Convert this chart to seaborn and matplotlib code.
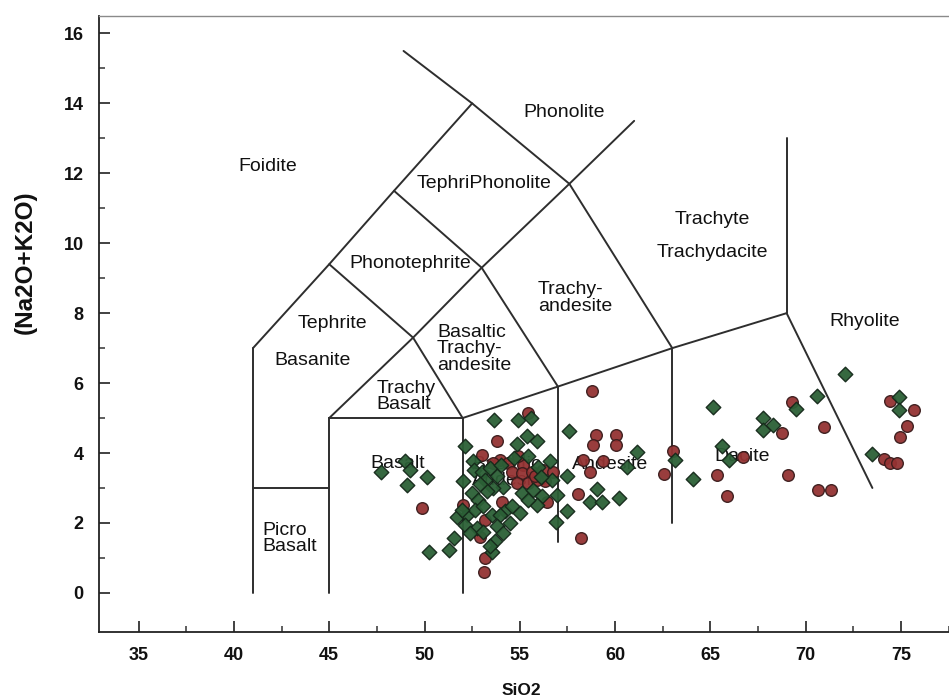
import matplotlib
matplotlib.use("Agg")
import matplotlib.pyplot as plt
import numpy as np
import pandas as pd
import seaborn as sns
from matplotlib.ticker import MultipleLocator

sns.set_theme(style="white")
plt.rcParams['font.family'] = ['Liberation Sans', 'DejaVu Sans']
plt.rcParams['text.color'] = '#111111'
plt.rcParams['axes.labelcolor'] = '#111111'
plt.rcParams['xtick.labelcolor'] = '#111111'
plt.rcParams['ytick.labelcolor'] = '#111111'

# ---- Sample analyses: SiO2 (wt%) vs total alkalis Na2O+K2O (wt%) ----
green_sio2 = [47.70, 48.97, 49.24, 49.06, 50.14, 50.25, 51.30,
              53.66, 54.92, 55.58, 54.84, 55.39, 55.92, 57.56, 61.13, 60.61,
              59.03, 58.68, 59.29, 60.22, 57.49, 57.49, 56.90, 53.52,
              63.16, 64.10, 65.15, 65.59, 66.00, 67.77, 68.30, 67.74, 69.47,
              70.61, 72.06, 73.46, 74.91, 74.91,
              52.12, 52.56, 52.59, 53.00, 53.43, 53.17, 53.79, 55.44, 55.97,
              56.58, 56.67, 54.13, 53.61, 55.10, 55.71, 56.15, 56.93, 55.89,
              55.45, 52.03, 52.47, 52.82, 51.69, 52.21, 52.65, 53.08, 53.52,
              54.22, 54.57, 55.01, 53.96, 52.12, 52.73, 52.38, 53.08, 53.79,
              54.13, 53.70, 54.48, 53.43, 51.55, 51.95, 54.70, 53.30, 56.10,
              54.00, 52.90]
green_alk = [3.47, 3.76, 3.52, 3.09, 3.31, 1.18, 1.23,
             4.93, 4.93, 5.01, 4.26, 4.49, 4.33, 4.64, 4.04, 3.61,
             2.97, 2.61, 2.61, 2.71, 3.35, 2.33, 2.04, 1.18,
             3.79, 3.26, 5.33, 4.21, 3.79, 5.00, 4.81, 4.67, 5.26,
             5.64, 6.27, 3.97, 5.60, 5.22,
             4.19, 3.76, 3.52, 3.47, 3.57, 3.23, 3.33, 3.90, 3.61,
             3.76, 3.23, 3.04, 3.00, 2.85, 2.95, 2.76, 2.80, 2.52,
             2.66, 3.19, 2.85, 2.66, 2.18, 2.23, 2.38, 2.47, 2.23,
             2.33, 2.47, 2.28, 2.23, 1.95, 1.85, 1.71, 1.75, 1.90,
             1.71, 1.47, 1.99, 1.33, 1.57, 2.38, 3.85, 2.90, 3.30,
             3.65, 3.10]

red_sio2 = [49.88, 55.44, 53.79, 58.77, 58.98, 60.03, 58.85, 60.03,
            58.33, 59.38, 58.68, 58.07, 58.19, 53.17, 53.12,
            63.02, 62.58, 65.33, 65.85, 66.69, 68.74, 69.26, 69.09,
            70.96, 70.66, 71.31, 74.11, 74.42, 74.80, 74.42, 75.68,
            75.30, 74.95,
            53.03, 53.96, 54.40, 54.57, 55.18, 55.10, 55.62, 56.23,
            56.76, 56.32, 54.84, 55.45, 55.89, 56.41, 52.03, 53.17,
            54.05, 52.91, 54.90, 55.80, 53.60]
red_alk = [2.44, 5.14, 4.35, 5.76, 4.52, 4.52, 4.24, 4.24,
           3.81, 3.76, 3.47, 2.83, 1.57, 0.99, 0.59,
           4.06, 3.41, 3.36, 2.78, 3.88, 4.57, 5.45, 3.36,
           4.74, 2.95, 2.95, 3.83, 3.71, 3.71, 5.50, 5.22,
           4.76, 4.47,
           3.95, 3.81, 3.71, 3.47, 3.66, 3.43, 3.47, 3.52,
           3.47, 3.19, 3.14, 3.14, 3.23, 2.61, 2.52, 2.09,
           2.61, 1.61, 3.90, 3.35, 3.70]

# ---- TAS classification boundaries (Le Bas et al.) ----
line_picro_v = [(41, 0), (41, 7)]
line_picro_h = [(41, 3), (45, 3)]
line_basalt = [(45, 0), (45, 5), (52, 5), (52, 0)]
line_lower_alk = [(52, 5), (57, 5.9), (63, 7), (69, 8)]
line_andesite = [(57, 5.9), (57, 1.45)]
line_dacite = [(63, 7), (63, 2.0)]
line_rhyolite = [(69, 8), (73.5, 3.0)]
line_trachyte = [(69, 8), (69, 13)]
line_foidite = [(41, 7), (45, 9.4), (48.4, 11.5), (52.5, 14), (48.9, 15.5)]
line_phonolite = [(52.5, 14), (57.6, 11.7), (63, 7)]
line_tephrite = [(45, 9.4), (49.4, 7.3), (52, 5)]
line_phonotephrite = [(48.4, 11.5), (53, 9.3), (57, 5.9)]
line_trachy = [(45, 5), (49.4, 7.3), (53, 9.3), (57.6, 11.7), (61, 13.5)]
boundaries = [line_picro_v, line_picro_h, line_basalt, line_lower_alk,
              line_andesite, line_dacite, line_rhyolite, line_trachyte,
              line_foidite, line_phonolite, line_tephrite,
              line_phonotephrite, line_trachy]

# ---- Field names: text, x, y, horizontal alignment ----
field_names = ["Foidite", "Phonolite", "TephriPhonolite", "Phonotephrite",
               "Tephrite", "Basanite", "Basaltic\nTrachy-\nandesite",
               "Trachy\nBasalt", "Trachy-\nandesite", "Trachyte",
               "Trachydacite", "Rhyolite", "Picro\nBasalt", "Basalt",
               "Basaltic\nAndesite", "Andesite", "Dacite"]
field_x = [41.75, 57.3, 53.1, 49.25, 45.15, 44.15, 50.65, 47.5, 55.95,
           65.1, 65.1, 73.1, 41.5, 48.6, 52.5, 59.75, 66.65]
field_y = [12.2, 13.75, 11.7, 9.42, 7.7, 6.65, 6.98, 5.62, 8.43,
           10.68, 9.73, 7.76, 1.55, 3.69, 3.45, 3.66, 3.9]
field_ha = ["center", "center", "center", "center", "center", "center",
            "left", "left", "left", "center", "center", "center", "left",
            "center", "left", "center", "center"]

fig = plt.figure(figsize=(9.49, 7.0), dpi=100)
ax = fig.add_axes([99 / 949, 1 - 632 / 700, 850 / 949, 616 / 700])

for seg in boundaries:
    xs, ys = zip(*seg)
    ax.plot(xs, ys, color="#2e2e2e", lw=1.4, zorder=2,
            solid_joinstyle="miter")

for name, x, y, ha in zip(field_names, field_x, field_y, field_ha):
    ax.text(x, y, name, ha=ha, va="center", fontsize=14, color="#111111",
            linespacing=0.95, zorder=3)

red_df = pd.DataFrame({"SiO2": red_sio2, "alk": red_alk})
green_df = pd.DataFrame({"SiO2": green_sio2, "alk": green_alk})
sns.scatterplot(data=red_df, x="SiO2", y="alk", ax=ax, marker="o", s=70,
                color="#943232", edgecolor="#3a1c1c", linewidth=1.0,
                alpha=0.95, zorder=4)
sns.scatterplot(data=green_df, x="SiO2", y="alk", ax=ax, marker="D", s=55,
                color="#2b6036", edgecolor="#15281a", linewidth=1.0,
                alpha=0.95, zorder=5)

ax.set_xlim(32.92, 77.52)
ax.set_ylim(-1.12, 16.5)
ax.xaxis.set_major_locator(MultipleLocator(5))
ax.xaxis.set_minor_locator(MultipleLocator(2.5))
ax.yaxis.set_major_locator(MultipleLocator(2))
ax.set_yticks(np.arange(1, 16, 2), minor=True)
ax.set_xticks(np.arange(35, 76, 5))
ax.set_yticks(np.arange(0, 17, 2))

ax.tick_params(which="major", direction="in", length=8, width=1.3,
               color="#333333", labelsize=13, pad=11)
ax.tick_params(which="minor", direction="in", length=4, width=1.1,
               color="#333333")
ax.tick_params(axis="x", which="both", bottom=True, top=False)
ax.tick_params(axis="y", which="both", left=True, right=False)
for lab in ax.get_xticklabels() + ax.get_yticklabels():
    lab.set_fontweight("bold")

ax.set_xlabel("SiO2", fontsize=12.5, fontweight="bold")
ax.set_ylabel("(Na2O+K2O)", fontsize=17.5, fontweight="bold")
ax.xaxis.set_label_coords(0.4965, -0.083)
ax.yaxis.set_label_coords(-0.073, 0.600)

for side in ["left", "bottom"]:
    ax.spines[side].set_color("#222222")
    ax.spines[side].set_linewidth(1.3)
ax.spines["top"].set_color("#8a8a8a")
ax.spines["top"].set_linewidth(1.0)
ax.spines["right"].set_visible(False)
ax.grid(False)

fig.savefig("out.png", dpi=100)
